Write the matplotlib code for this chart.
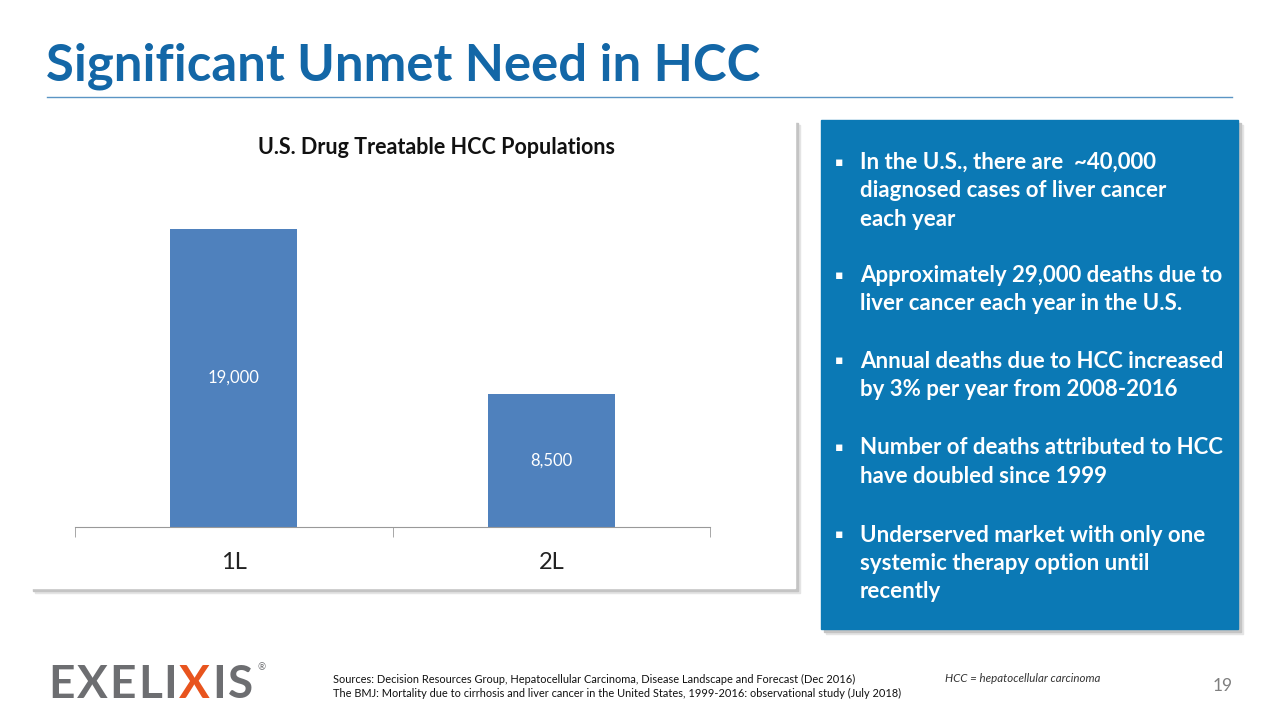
import matplotlib
matplotlib.use("Agg")
import matplotlib.pyplot as plt
from matplotlib.patches import Rectangle

W, H = 1280, 721

# data
categories = ["1L", "2L"]
populations = [19000, 8500]
value_labels = ["19,000", "8,500"]

bullets = [
    ["In the U.S., there are  ~40,000", "diagnosed cases of liver cancer", "each year"],
    ["Approximately 29,000 deaths due to", "liver cancer each year in the U.S."],
    ["Annual deaths due to HCC increased", "by 3% per year from 2008-2016"],
    ["Number of deaths attributed to HCC", "have doubled since 1999"],
    ["Underserved market with only one", "systemic therapy option until", "recently"],
]
bullet_y = [162, 275, 361, 448, 535]

sources = [
    "Sources: Decision Resources Group, Hepatocellular Carcinoma, Disease Landscape and Forecast (Dec 2016)",
    "The BMJ: Mortality due to cirrhosis and liver cancer in the United States, 1999-2016: observational study (July 2018)",
]

plt.rcParams['font.family'] = ['Lato', 'DejaVu Sans']


def fx(px):
    return px / W


def fy(py):
    return 1 - py / H


def box(x0, y0, x1, y1, color, shadow=True, z=1):
    if shadow:
        for off, c in [(5, "#e4e4e4"), (3, "#c4c4c4")]:
            fig.patches.append(Rectangle((fx(x0 + off), fy(y1 + off)), (x1 - x0) / W, (y1 - y0) / H,
                                         transform=fig.transFigure, color=c, zorder=z))
    fig.patches.append(Rectangle((fx(x0), fy(y1)), (x1 - x0) / W, (y1 - y0) / H,
                                 transform=fig.transFigure, color=color, zorder=z + 0.1))


fig = plt.figure(figsize=(12.8, 7.21), dpi=100)
fig.patch.set_facecolor("white")

# title and rule
fig.text(fx(46), fy(66), "Significant Unmet Need in HCC", fontsize=36.6, fontweight="bold",
         color="#1367a7", va="center", ha="left")
fig.add_artist(plt.Line2D([fx(47), fx(1232)], [fy(97), fy(97)], color="#5b95c4", lw=1))

# chart panel
box(30, 120, 795, 588, "white")

ax = fig.add_axes([fx(75), fy(527), 635 / W, 357 / H])
ax.set_zorder(3)
ax.patch.set_alpha(0)
x = list(range(len(categories)))
bars = ax.bar(x, populations, width=0.4, color="#4f81bd")
for b, lab in zip(bars, value_labels):
    ax.text(b.get_x() + b.get_width() / 2, b.get_height() / 2, lab, color="white",
            fontsize=12, ha="center", va="center")
ax.set_xlim(-0.5, 1.5)
ax.set_ylim(0, 22760)
ax.set_yticks([])
ax.set_xticks(x)
ax.set_xticklabels(categories, fontsize=17, color="#222222")
ax.set_xticks([-0.5, 0.5, 1.5], minor=True)
ax.tick_params(axis="x", which="major", length=0, pad=18)
ax.tick_params(axis="x", which="minor", length=7, color="#999999", direction="out")
for s in ["top", "left", "right"]:
    ax.spines[s].set_visible(False)
ax.spines["bottom"].set_color("#999999")
fig.text(fx(436), fy(147), "U.S. Drug Treatable HCC Populations", fontsize=15.5, fontweight="bold",
         color="#111111", ha="center", va="center", zorder=5)

# blue bullet panel
box(821, 120, 1238, 629, "#0b79b5")
step = 28.5
for lines, y0 in zip(bullets, bullet_y):
    fig.text(fx(835), fy(y0), "\u25aa", fontsize=9, color="white", ha="left", va="center",
             family="DejaVu Sans", zorder=5)
    for i, line in enumerate(lines):
        fig.text(fx(860), fy(y0 + i * step), line, fontsize=16, fontweight="bold", color="white",
                 ha="left", va="center", zorder=5)

# footer logo, letters placed one after another with extra spacing
renderer = fig.canvas.get_renderer()
xpos = 48
for ch in "EXELIXIS":
    col = "#e8541e" if (ch == "X" and xpos > 100) else "#6d6e71"
    t = fig.text(fx(xpos), fy(685), ch, fontsize=33, fontweight="bold", color=col,
                 ha="left", va="center")
    xpos = t.get_window_extent(renderer).x1 + 2
fig.text(fx(xpos + 2), fy(668), "\u00ae", fontsize=7, color="#6d6e71", ha="left", va="center")

for i, s in enumerate(sources):
    fig.text(fx(333), fy(679 + i * 14), s, fontsize=7.9, color="#111111", ha="left", va="center")
fig.text(fx(945), fy(679), "HCC = hepatocellular carcinoma", fontsize=8.3, style="italic",
         color="#333333", ha="left", va="center")
fig.text(fx(1233), fy(686), "19", fontsize=12.5, color="#7f7f7f", ha="right", va="center")

fig.savefig("out.png", dpi=100)
